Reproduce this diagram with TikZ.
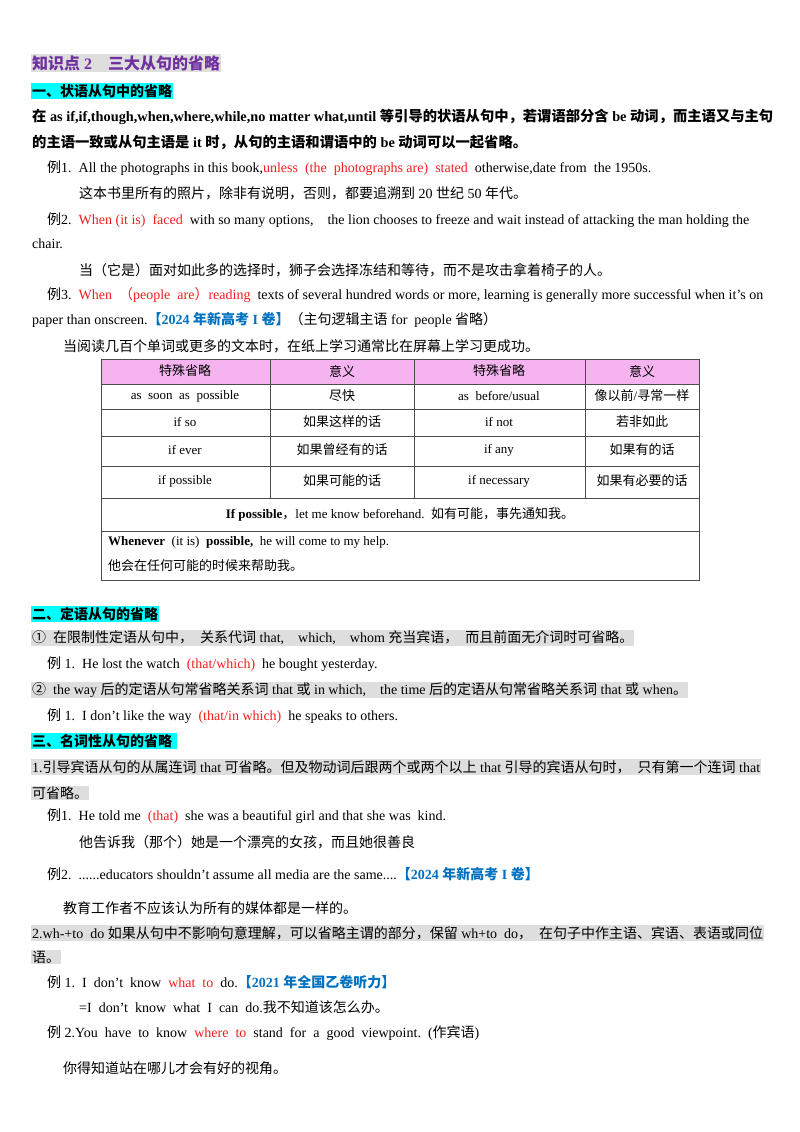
\documentclass[tikz,border=0pt]{standalone}
\usepackage{fontspec}
\setmainfont{Liberation Serif}
\newfontfamily\cj{Noto Sans CJK SC}
\XeTeXinterchartokenstate=1
\newXeTeXintercharclass\cjkcls
\count255="3000 \loop \XeTeXcharclass\count255=\cjkcls \ifnum\count255<"303F \advance\count255 1 \repeat
\count255="4E00 \loop \XeTeXcharclass\count255=\cjkcls \ifnum\count255<"9FFF \advance\count255 1 \repeat
\count255="FF00 \loop \XeTeXcharclass\count255=\cjkcls \ifnum\count255<"FFEF \advance\count255 1 \repeat
\count255="2460 \loop \XeTeXcharclass\count255=\cjkcls \ifnum\count255<"2473 \advance\count255 1 \repeat
\XeTeXinterchartoks 0 \cjkcls={\cj}
\XeTeXinterchartoks 4095 \cjkcls={\cj}
\XeTeXinterchartoks \cjkcls 0={\rmfamily}
\XeTeXinterchartoks \cjkcls 4095={\rmfamily}
\definecolor{cyanhl}{RGB}{0,255,255}
\definecolor{greyhl}{RGB}{222,222,222}
\definecolor{pinkhd}{RGB}{245,180,240}
\definecolor{purp}{RGB}{112,48,160}
\definecolor{blu}{RGB}{0,112,192}
\definecolor{rd}{RGB}{240,30,30}
\begin{document}
\begin{tikzpicture}[x=1pt,y=-1pt,
  every node/.style={anchor=west,inner sep=1pt,font=\fontsize{14}{16}\selectfont},
  sec/.style={fill=cyanhl,font=\fontsize{14}{16}\selectfont\bfseries},
  hl/.style={fill=greyhl},
  tb/.style={anchor=center,font=\fontsize{13}{15}\selectfont},
  grid/.style={draw=black!70,line width=0.6pt}]
\useasboundingbox (0,0) rectangle (800,1132);
\node[hl,font=\fontsize{16}{18}\selectfont\bfseries,text=purp] (t) at (31,63) {知识点 2\quad 三大从句的省略};
\node[sec] (s1) at (31,91) {一、状语从句中的省略};
\node[font=\fontsize{14.3}{16}\selectfont\bfseries] (p1) at (31,117) {在 as if,if,though,when,where,while,no matter what,until 等引导的状语从句中，若谓语部分含 be 动词，而主语又与主句};
\node[font=\fontsize{14.3}{16}\selectfont\bfseries] (p2) at (31,142) {的主语一致或从句主语是 it 时，从句的主语和谓语中的 be 动词可以一起省略。};
\node (e1) at (46,168) {例1.\ \ All the photographs in this book,\textcolor{rd}{unless\ \ (the\ \ photographs are)\ \ stated}\ \ otherwise,date from\ \ the 1950s.};
\node (e1c) at (78,193) {这本书里所有的照片，除非有说明，否则，都要追溯到 20 世纪 50 年代。};
\node (e2) at (46,220) {例2.\ \ \textcolor{rd}{When (it is)\ \ faced}\ \ with so many options,\ \ \ \ the lion chooses to freeze and wait instead of attacking the man holding the};
\node (e2b) at (31,244) {chair.};
\node (e2c) at (78,270) {当（它是）面对如此多的选择时，狮子会选择冻结和等待，而不是攻击拿着椅子的人。};
\node (e3) at (46,295) {例3.\ \ \textcolor{rd}{When\ \ （people\ \ are）reading}\ \ texts of several hundred words or more, learning is generally more successful when it’s on};
\node (e3b) at (31,320) {paper than onscreen.\textcolor{blu}{\bfseries【2024 年新高考 I 卷】}（主句逻辑主语 for\ \ people 省略）};
\node (e3c) at (62,346) {当阅读几百个单词或更多的文本时，在纸上学习通常比在屏幕上学习更成功。};
% table
\fill[pinkhd] (101,359) rectangle (699,384);
\draw[grid] (101,359) rectangle (699,580);
\foreach \yy in {384,409,436,466,498,531} \draw[grid] (101,\yy) -- (699,\yy);
\foreach \xx in {270,414,585} \draw[grid] (\xx,359) -- (\xx,498);
\node[tb] (h1) at (185,371) {特殊省略};
\node[tb] (h2) at (342,371) {意义};
\node[tb] (h3) at (499,371) {特殊省略};
\node[tb] (h4) at (642,371) {意义};
\node[tb] (a1) at (185,396) {as\ \ soon\ \ as\ \ possible};
\node[tb] (a2) at (342,396) {尽快};
\node[tb] (a3) at (499,396) {as\ \ before/usual};
\node[tb] (a4) at (642,396) {像以前/寻常一样};
\node[tb] (b1) at (185,422) {if so};
\node[tb] (b2) at (342,422) {如果这样的话};
\node[tb] (b3) at (499,422) {if not};
\node[tb] (b4) at (642,422) {若非如此};
\node[tb] (c1) at (185,450) {if ever};
\node[tb] (c2) at (342,450) {如果曾经有的话};
\node[tb] (c3) at (499,450) {if any};
\node[tb] (c4) at (642,450) {如果有的话};
\node[tb] (d1) at (185,481) {if possible};
\node[tb] (d2) at (342,481) {如果可能的话};
\node[tb] (d3) at (499,481) {if necessary};
\node[tb] (d4) at (642,481) {如果有必要的话};
\node[tb] (f1) at (400,514) {\textbf{If possible}，let me know beforehand.\ \ 如有可能，事先通知我。};
\node[font=\fontsize{13}{15}\selectfont] (g1) at (107,542) {\textbf{Whenever}\ \ (it is)\ \ \textbf{possible,}\ \ he will come to my help.};
\node[font=\fontsize{13}{15}\selectfont] (g2) at (107,566) {他会在任何可能的时候来帮助我。};
% section 2
\node[sec] (s2) at (31,614) {二、定语从句的省略};
\node[hl] (r1) at (31,638) {①\ \ 在限制性定语从句中，\ \ 关系代词 that,\ \ \ \ which,\ \ \ \ whom 充当宾语，\ \ 而且前面无介词时可省略。};
\node (r1e) at (46,664) {例 1.\ \ He lost the watch\ \ \textcolor{rd}{(that/which)}\ \ he bought yesterday.};
\node[hl] (r2) at (31,690) {②\ \ the way 后的定语从句常省略关系词 that 或 in which,\ \ \ \ the time 后的定语从句常省略关系词 that 或 when。};
\node (r2e) at (46,716) {例 1.\ \ I don’t like the way\ \ \textcolor{rd}{(that/in which)}\ \ he speaks to others.};
% section 3
\node[sec] (s3) at (31,741) {三、名词性从句的省略\ \ };
\node[hl] (n1) at (31,767) {1.引导宾语从句的从属连词 that 可省略。但及物动词后跟两个或两个以上 that 引导的宾语从句时，\ \ 只有第一个连词 that};
\node[hl] (n1b) at (31,793) {可省略。};
\node (n1e) at (46,816) {例1.\ \ He told me\ \ \textcolor{rd}{(that)}\ \ she was a beautiful girl and that she was\ \ kind.};
\node (n1c) at (78,842) {他告诉我（那个）她是一个漂亮的女孩，而且她很善良};
\node (n2e) at (46,874) {例2.\ \ ......educators shouldn’t assume all media are the same....\textcolor{blu}{\bfseries【2024 年新高考 I 卷】}};
\node (n2c) at (62,908) {教育工作者不应该认为所有的媒体都是一样的。};
\node[hl] (m1) at (31,933) {2.wh-+to\ \ do 如果从句中不影响句意理解，可以省略主谓的部分，保留 wh+to\ \ do，\ \ 在句子中作主语、宾语、表语或同位};
\node[hl] (m1b) at (31,957) {语。};
\node (m1e) at (46,982) {例 1.\ \ I\ \ don’t\ \ know\ \ \textcolor{rd}{what\ \ to}\ \ do.\textcolor{blu}{\bfseries【2021 年全国乙卷听力】}};
\node (m1f) at (78,1007) {=I\ \ don’t\ \ know\ \ what\ \ I\ \ can\ \ do.我不知道该怎么办。};
\node (m2e) at (46,1033) {例 2.You\ \ have\ \ to\ \ know\ \ \textcolor{rd}{where\ \ to}\ \ stand\ \ for\ \ a\ \ good\ \ viewpoint.\ \ (作宾语)};
\node (m2c) at (62,1068) {你得知道站在哪儿才会有好的视角。};
\end{tikzpicture}
\end{document}
